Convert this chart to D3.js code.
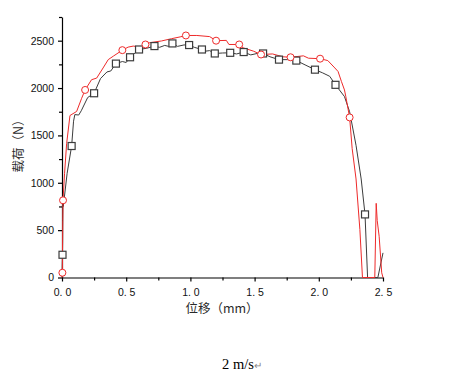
<!DOCTYPE html>
<html>
<head>
<meta charset="utf-8">
<script src="https://cdn.jsdelivr.net/npm/d3@7"></script>
<style>
  body { margin: 0; background: #fff; }
  svg { display: block; }
</style>
</head>
<body>
<svg id="chart" width="449" height="384"></svg>
<script>
// displacement (mm) / load (N)
const redLine = [
  [0, 0], [0.003, 50], [0.004, 300], [0.006, 600], [0.008, 815], [0.02, 1100], [0.036, 1412],
  [0.062, 1710], [0.114, 1753], [0.153, 1892], [0.18, 1980], [0.23, 2088], [0.27, 2105],
  [0.32, 2212], [0.36, 2300], [0.40, 2337], [0.47, 2400], [0.515, 2432], [0.555, 2443],
  [0.61, 2432], [0.65, 2460], [0.684, 2479], [0.775, 2497], [0.853, 2521], [0.92, 2540],
  [0.965, 2555], [1.05, 2555], [1.15, 2543], [1.2, 2500], [1.28, 2503], [1.3, 2460],
  [1.38, 2460], [1.41, 2425], [1.49, 2390], [1.55, 2354], [1.64, 2360], [1.72, 2330],
  [1.78, 2325], [1.88, 2340], [1.92, 2315], [2.01, 2310], [2.07, 2290], [2.125, 2212],
  [2.15, 2175], [2.176, 2070], [2.2, 1980], [2.21, 1913], [2.24, 1690], [2.26, 1360],
  [2.29, 1040], [2.32, 506], [2.34, 0], [2.436, 0], [2.447, 783], [2.455, 600],
  [2.47, 435], [2.49, 50], [2.5, 0]
];
const blackLine = [
  [0, 0], [0.002, 150], [0.004, 240], [0.005, 400], [0.006, 850], [0.01, 750], [0.04, 1100],
  [0.075, 1388], [0.09, 1650], [0.1, 1720], [0.13, 1715], [0.15, 1760], [0.2, 1900],
  [0.25, 1945], [0.3, 2100], [0.35, 2170], [0.38, 2180], [0.42, 2258], [0.47, 2280],
  [0.5, 2270], [0.53, 2325], [0.6, 2407], [0.66, 2420], [0.72, 2443], [0.76, 2430],
  [0.8, 2450], [0.83, 2440], [0.86, 2471], [0.9, 2440], [0.95, 2455], [0.99, 2454],
  [1.03, 2430], [1.09, 2407], [1.12, 2390], [1.15, 2395], [1.19, 2365], [1.25, 2370],
  [1.31, 2372], [1.36, 2360], [1.415, 2380], [1.47, 2350], [1.52, 2365], [1.566, 2365],
  [1.62, 2330], [1.69, 2300], [1.76, 2300], [1.825, 2290], [1.9, 2240], [1.97, 2194],
  [2.03, 2160], [2.085, 2124], [2.13, 2034], [2.2, 1910], [2.24, 1750], [2.29, 1395],
  [2.33, 1040], [2.36, 666], [2.38, 0], [2.46, 0], [2.5, 260]
];
const redMarkers = [
  [0.003, 50], [0.008, 815], [0.18, 1980], [0.47, 2400], [0.65, 2460], [0.965, 2555],
  [1.2, 2500], [1.38, 2460], [1.55, 2354], [1.78, 2325], [2.01, 2310], [2.24, 1690]
];
const blackMarkers = [
  [0.004, 240], [0.075, 1388], [0.25, 1945], [0.42, 2258], [0.53, 2325], [0.6, 2407],
  [0.72, 2443], [0.86, 2471], [0.99, 2454], [1.09, 2407], [1.19, 2365], [1.31, 2372],
  [1.415, 2380], [1.566, 2365], [1.69, 2300], [1.825, 2290], [1.97, 2194], [2.13, 2034],
  [2.36, 666]
];
const xTicks = [0, 0.5, 1.0, 1.5, 2.0, 2.5];
const yTicks = [0, 500, 1000, 1500, 2000, 2500];

const svg = d3.select("#chart");
const plotLeft = 62, plotRight = 383, plotTop = 17, plotBottom = 277.5;

const x = d3.scaleLinear().domain([0, 2.5]).range([plotLeft, plotRight]);
const y = d3.scaleLinear().domain([0, 2750]).range([plotBottom, plotTop]);

const tickFont = "'Liberation Sans', Arial, sans-serif";

// x axis
const xAxis = svg.append("g")
  .attr("transform", "translate(0," + plotBottom + ")")
  .call(d3.axisBottom(x).tickValues(xTicks).tickSize(4).tickSizeOuter(0)
    .tickFormat(d => d3.format(".1f")(d).replace(".", ". ")));
svg.append("g")
  .attr("transform", "translate(0," + plotBottom + ")")
  .call(d3.axisBottom(x).tickValues(d3.range(0.25, 2.5, 0.5)).tickSize(3).tickSizeOuter(0).tickFormat(""))
  .select(".domain").remove();

// y axis
const yAxis = svg.append("g")
  .attr("transform", "translate(" + plotLeft + ",0)")
  .call(d3.axisLeft(y).tickValues(yTicks).tickSize(4).tickSizeOuter(0).tickFormat(d3.format("d")));
svg.append("g")
  .attr("transform", "translate(" + plotLeft + ",0)")
  .call(d3.axisLeft(y).tickValues(d3.range(250, 2751, 500)).tickSize(3).tickSizeOuter(0).tickFormat(""))
  .select(".domain").remove();

svg.selectAll(".tick text")
  .style("font-family", tickFont)
  .style("font-size", "10.5px")
  .attr("fill", "#111");
xAxis.selectAll(".tick text").attr("dy", "1.05em");
yAxis.selectAll(".tick text").attr("dx", "-1px");
svg.selectAll(".domain, .tick line").attr("stroke", "#000").attr("stroke-width", 1.2);

// lines
const line = d3.line().x(d => x(d[0])).y(d => y(d[1]));
svg.append("path").datum(blackLine)
  .attr("d", line).attr("fill", "none").attr("stroke", "#3c3c3c").attr("stroke-width", 1);
svg.append("path").datum(redLine)
  .attr("d", line).attr("fill", "none").attr("stroke", "#ee2a2a").attr("stroke-width", 1);

// markers
svg.selectAll(".sq").data(blackMarkers).enter().append("rect")
  .attr("x", d => x(d[0]) - 3.5).attr("y", d => y(d[1]) - 3.5)
  .attr("width", 7).attr("height", 7)
  .attr("fill", "#fff").attr("stroke", "#3c3c3c").attr("stroke-width", 1.2);
svg.selectAll(".ci").data(redMarkers).enter().append("circle")
  .attr("cx", d => x(d[0])).attr("cy", d => y(d[1])).attr("r", 3.5)
  .attr("fill", "#fff").attr("stroke", "#ee2a2a").attr("stroke-width", 1);

// axis titles
const labelFont = "'Noto Sans CJK SC', sans-serif";
svg.append("text")
  .attr("x", 222).attr("y", 313)
  .attr("text-anchor", "middle")
  .style("font-family", labelFont).style("font-size", "12.5px")
  .attr("fill", "#2a2a2a")
  .text("位移（mm）");
svg.append("text")
  .attr("transform", "translate(23,143) rotate(-90)")
  .attr("text-anchor", "middle")
  .style("font-family", labelFont).style("font-size", "12.5px")
  .attr("fill", "#2a2a2a")
  .text("载荷（N）");

// caption
const cap = svg.append("text")
  .attr("x", 222).attr("y", 369)
  .style("font-family", "'Liberation Serif', 'Times New Roman', serif")
  .style("font-size", "14.5px")
  .attr("fill", "#000");
cap.append("tspan").text("2 m/s");
cap.append("tspan").attr("fill", "#888").style("font-size", "10px").text("↵");
</script>
</body>
</html>
